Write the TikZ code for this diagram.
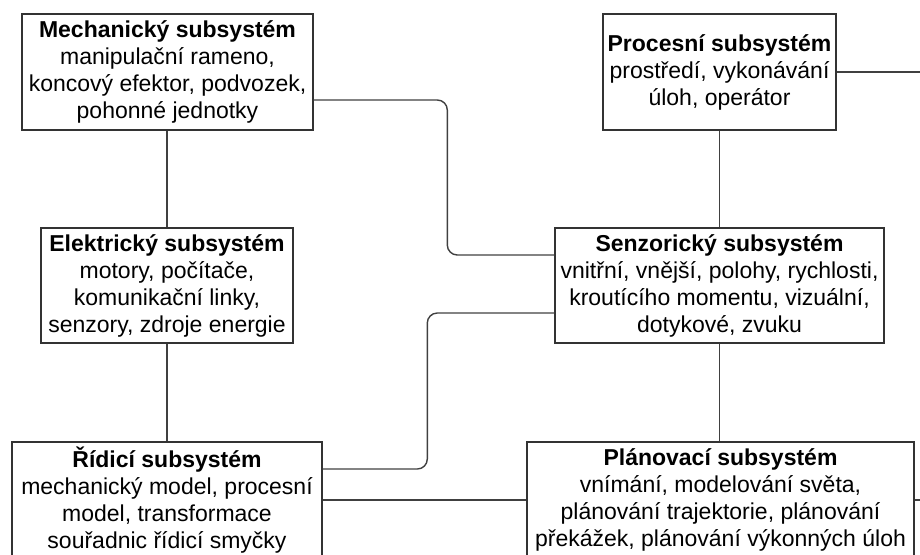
\documentclass[tikz,border=0pt]{standalone}
\usepackage{fontspec}
\setmainfont{Liberation Sans}

\tikzset{
  subsys/.style={draw=black!80, line width=1.4pt, fill=white, align=center, inner sep=0pt, font=\fontsize{23}{27}\selectfont},
  link/.style={draw=black!75, line width=1.4pt},
}

\begin{document}
\begin{tikzpicture}[x=1pt, y=-1pt]
\useasboundingbox (0,0) rectangle (920,554);
\clip (0,0) rectangle (920,554);

\node[subsys, minimum width=291pt, minimum height=116pt] (mech) at (167.5,72) {\textbf{Mechanický subsystém}\\manipulační rameno,\\koncový efektor, podvozek,\\pohonné jednotky};
\node[subsys, minimum width=233pt, minimum height=116pt] (proc) at (719.5,72) {\textbf{Procesní subsystém}\\prostředí, vykonávání\\úloh, operátor};
\node[subsys, minimum width=252pt, minimum height=115pt] (elek) at (167,285.5) {\textbf{Elektrický subsystém}\\motory, počítače,\\komunikační linky,\\senzory, zdroje energie};
\node[subsys, minimum width=329pt, minimum height=115pt] (senz) at (719.5,285.5) {\textbf{Senzorický subsystém}\\vnitřní, vnější, polohy, rychlosti,\\kroutícího momentu, vizuální,\\dotykové, zvuku};
\node[subsys, minimum width=310pt, minimum height=116pt] (ridi) at (167,500) {\textbf{Řídicí subsystém}\\mechanický model, procesní\\model, transformace\\souřadnic řídicí smyčky};
\node[subsys, minimum width=387pt, minimum height=116pt] (plan) at (720.5,500) {\textbf{Plánovací subsystém}\\vnímání, modelování světa,\\plánování trajektorie, plánování\\překážek, plánování výkonných úloh};

\coordinate (rightedge) at (922,0);

\draw[link] (mech.south -| elek.north) -- (elek.north);
\draw[link] (elek.south) -- (elek.south |- ridi.north);
\draw[link] (proc.south) -- (senz.north);
\draw[link] (senz.south) -- (senz.south |- plan.north);
\draw[link] (ridi.east) -- (plan.west);
\draw[link, rounded corners=10pt] ([yshift=-28pt]mech.east) -| ([xshift=-107pt, yshift=30.5pt]senz.west) -- ([yshift=30.5pt]senz.west);
\draw[link, rounded corners=10pt] ([yshift=31pt]ridi.east) -| ([xshift=-127pt, yshift=-27.5pt]senz.west) -- ([yshift=-27.5pt]senz.west);
\draw[link] (proc.east) -- (proc.east -| rightedge);
\draw[link] (plan.east) -- (plan.east -| rightedge);

\end{tikzpicture}
\end{document}
